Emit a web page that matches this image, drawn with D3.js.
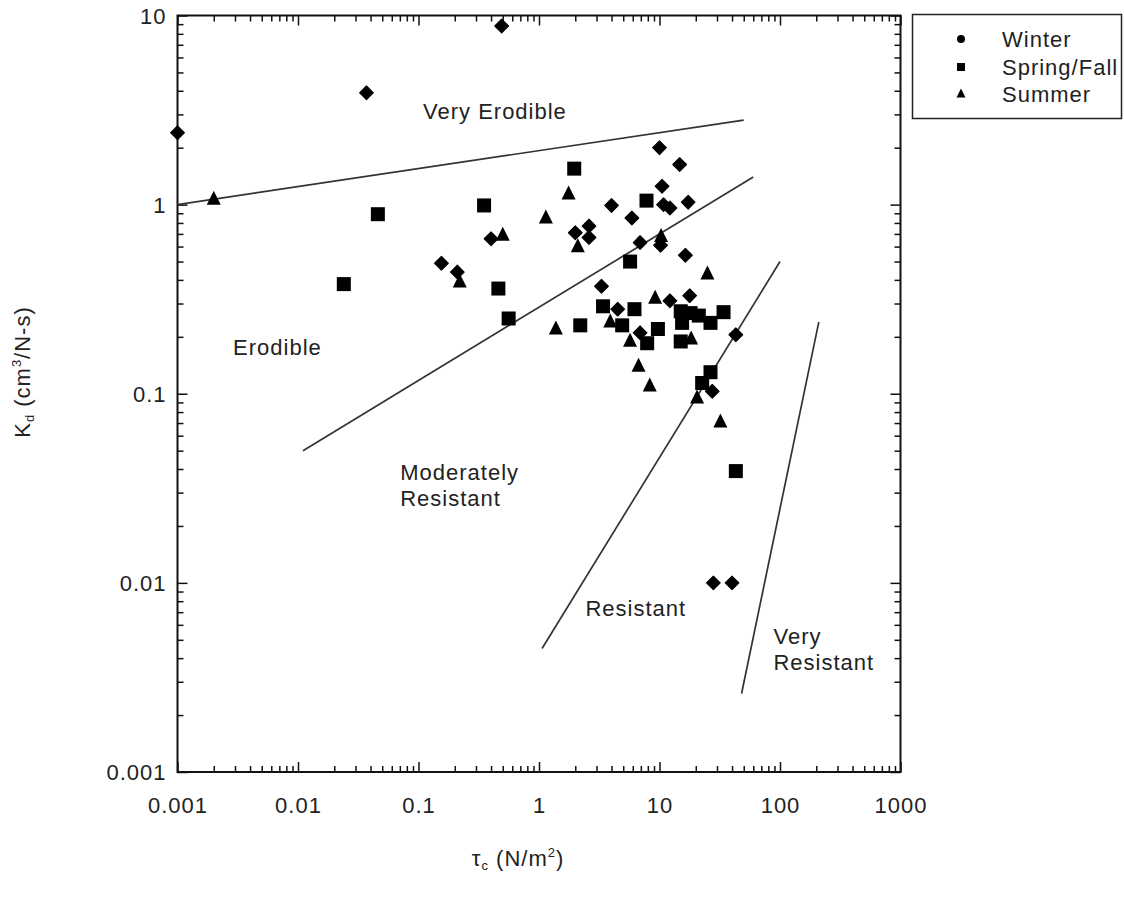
<!DOCTYPE html>
<html><head><meta charset="utf-8">
<script src="https://cdn.jsdelivr.net/npm/d3@7"></script>
<style>body{margin:0;background:#fff}</style>
</head><body>
<svg id="c" width="1124" height="909"></svg>
<script>
// ---------- data ----------
const xTickValues = [0.001, 0.01, 0.1, 1, 10, 100, 1000];
const xTickLabels = ["0.001", "0.01", "0.1", "1", "10", "100", "1000"];
const yTickValues = [0.001, 0.01, 0.1, 1, 10];
const yTickLabels = ["0.001", "0.01", "0.1", "1", "10"];

// Winter (tau_c, Kd)
const winterTau = [0.001, 0.037, 0.49, 0.155, 0.21, 0.40, 2.0, 2.6, 2.6, 4.0, 5.9, 6.9, 10.0, 14.7, 10.5, 10.8, 12.2, 17.3, 10.2, 16.4, 3.3, 4.5, 12.2, 17.8, 6.9, 43, 27.4, 28, 40];
const winterKd  = [2.4, 3.9, 8.8, 0.49, 0.44, 0.66, 0.71, 0.77, 0.67, 0.99, 0.85, 0.63, 2.0, 1.63, 1.25, 1.0, 0.96, 1.03, 0.61, 0.54, 0.37, 0.28, 0.31, 0.33, 0.21, 0.205, 0.103, 0.01, 0.01];
// Spring/Fall
const springTau = [0.024, 0.046, 0.35, 0.46, 0.56, 1.96, 2.2, 3.4, 4.9, 5.7, 6.2, 7.8, 7.9, 9.7, 15.0, 18.1, 21.2, 34, 26.5, 15.4, 15, 26.5, 22.6, 43];
const springKd  = [0.38, 0.89, 0.99, 0.36, 0.25, 1.55, 0.23, 0.29, 0.23, 0.50, 0.28, 1.05, 0.185, 0.22, 0.273, 0.267, 0.259, 0.27, 0.237, 0.237, 0.189, 0.13, 0.114, 0.039];
// Summer
const summerTau = [0.002, 0.22, 0.50, 1.14, 1.76, 2.1, 1.38, 3.9, 5.7, 6.7, 8.3, 9.2, 10.3, 18.3, 25, 20.5, 32];
const summerKd  = [1.07, 0.39, 0.69, 0.85, 1.14, 0.60, 0.22, 0.24, 0.19, 0.14, 0.11, 0.32, 0.68, 0.195, 0.43, 0.095, 0.071];

// Erodibility class boundary lines: [[tau1, kd1], [tau2, kd2]]
const boundaryLines = [
  [[0.001, 1.0], [50, 2.8]],
  [[0.011, 0.05], [60, 1.4]],
  [[1.06, 0.0045], [100, 0.5]],
  [[48, 0.0026], [210, 0.24]]
];
// Region labels: text lines, anchor (tau, kd) of first baseline
const regionText  = [["Very Erodible"], ["Erodible"], ["Moderately", "Resistant"], ["Resistant"], ["Very", "Resistant"]];
const regionTau   = [0.109, 0.00289, 0.0705, 2.43, 88.3];
const regionKd    = [2.85, 0.161, 0.0351, 0.00669, 0.00475];

const legendLabels = ["Winter", "Spring/Fall", "Summer"];

// ---------- drawing ----------
const svg = d3.select("#c");
const FONT = "'Liberation Sans', Arial, sans-serif";
const FS = 22;
const L = 177.5, R = 900.5, T = 15.5, B = 772;
const x = d3.scaleLog().domain([0.001, 1000]).range([L, R]);
const y = d3.scaleLog().domain([0.001, 10]).range([B, T]);

function minors(dom) {
  const out = [];
  for (let e = Math.log10(dom[0]); e < Math.log10(dom[1]); e++) {
    for (let k = 2; k <= 9; k++) out.push(k * Math.pow(10, e));
  }
  return out;
}
const xMinor = minors(x.domain()), yMinor = minors(y.domain());
const MAJ = 10, MIN = 6;

function tickGroup(axis, tf) {
  const g = svg.append("g").attr("transform", tf).call(axis);
  g.select(".domain").remove();
  g.selectAll("line").attr("stroke", "#111").attr("stroke-width", 1.5);
  g.selectAll("text").remove();
  return g;
}
tickGroup(d3.axisBottom(x).tickValues(xTickValues).tickSize(-MAJ), `translate(0,${B})`);
tickGroup(d3.axisBottom(x).tickValues(xMinor).tickSize(-MIN), `translate(0,${B})`);
tickGroup(d3.axisTop(x).tickValues(xTickValues).tickSize(-MAJ), `translate(0,${T})`);
tickGroup(d3.axisTop(x).tickValues(xMinor).tickSize(-MIN), `translate(0,${T})`);
tickGroup(d3.axisLeft(y).tickValues(yTickValues).tickSize(-MAJ), `translate(${L},0)`);
tickGroup(d3.axisLeft(y).tickValues(yMinor).tickSize(-MIN), `translate(${L},0)`);
tickGroup(d3.axisRight(y).tickValues(yTickValues).tickSize(-MAJ), `translate(${R},0)`);
tickGroup(d3.axisRight(y).tickValues(yMinor).tickSize(-MIN), `translate(${R},0)`);

svg.append("rect").attr("x", L).attr("y", T).attr("width", R - L).attr("height", B - T)
  .attr("fill", "none").attr("stroke", "#111").attr("stroke-width", 2);

const txt = (sel) => sel.attr("font-family", FONT).attr("font-size", FS)
  .attr("letter-spacing", "1px").attr("fill", "#222");

// tick labels
svg.append("g").selectAll("text").data(xTickValues).join("text")
  .call(txt).attr("x", d => x(d) + 0.5).attr("y", B + 41).attr("text-anchor", "middle")
  .text((d, i) => xTickLabels[i]);
svg.append("g").selectAll("text").data(yTickValues).join("text")
  .call(txt).attr("x", L - 11).attr("y", d => y(d) + 8).attr("text-anchor", "end")
  .text((d, i) => yTickLabels[i]);

// axis titles
const xt = svg.append("text").call(txt).attr("x", 518).attr("y", 866).attr("text-anchor", "middle");
xt.append("tspan").text("τ");
xt.append("tspan").attr("font-size", 13).attr("baseline-shift", "-4").text("c");
xt.append("tspan").text(" (N/m");
xt.append("tspan").attr("font-size", 13).attr("baseline-shift", "9").text("2");
xt.append("tspan").text(")");

const yt = svg.append("text").call(txt).attr("transform", "translate(30,372) rotate(-90)").attr("text-anchor", "middle");
yt.append("tspan").text("K");
yt.append("tspan").attr("font-size", 13).attr("baseline-shift", "-4").text("d");
yt.append("tspan").text(" (cm");
yt.append("tspan").attr("font-size", 13).attr("baseline-shift", "9").text("3");
yt.append("tspan").text("/N-s)");

// boundary lines
const line = d3.line().x(d => x(d[0])).y(d => y(d[1]));
svg.append("g").selectAll("path").data(boundaryLines).join("path")
  .attr("d", line).attr("fill", "none").attr("stroke", "#333").attr("stroke-width", 1.7);

// region labels
regionText.forEach((lines, i) => {
  lines.forEach((s, j) => {
    svg.append("text").call(txt).attr("x", x(regionTau[i])).attr("y", y(regionKd[i]) + j * 26).text(s);
  });
});

// markers
const diamond = (s) => `M0,${-s}L${s},0L0,${s}L${-s},0Z`;
const square = (s) => `M${-s},${-s}H${s}V${s}H${-s}Z`;
const tri = (w, h) => `M0,${-h * 0.6}L${w},${h * 0.4}H${-w}Z`;

svg.append("g").selectAll("path").data(winterTau.map((t, i) => [t, winterKd[i]])).join("path")
  .attr("transform", d => `translate(${x(d[0])},${y(d[1])})`)
  .attr("d", diamond(6.8)).attr("fill", "#000").attr("stroke", "#000").attr("stroke-width", 1.2).attr("stroke-linejoin", "round");
svg.append("g").selectAll("path").data(springTau.map((t, i) => [t, springKd[i]])).join("path")
  .attr("transform", d => `translate(${x(d[0])},${y(d[1])})`)
  .attr("d", square(7)).attr("fill", "#000");
svg.append("g").selectAll("path").data(summerTau.map((t, i) => [t, summerKd[i]])).join("path")
  .attr("transform", d => `translate(${x(d[0])},${y(d[1])})`)
  .attr("d", tri(7, 14)).attr("fill", "#000");

// legend
svg.append("rect").attr("x", 912.5).attr("y", 14.5).attr("width", 209).attr("height", 104)
  .attr("fill", "#fff").attr("stroke", "#222").attr("stroke-width", 1.5);
const legY = [39, 67, 94];
const lg = svg.append("g");
lg.append("circle").attr("cx", 961).attr("cy", legY[0]).attr("r", 4).attr("fill", "#000");
lg.append("path").attr("transform", `translate(961,${legY[1]})`).attr("d", square(4)).attr("fill", "#000");
lg.append("path").attr("transform", `translate(961,${legY[2]})`).attr("d", tri(4.5, 9)).attr("fill", "#000");
lg.selectAll("text").data(legendLabels).join("text").call(txt)
  .attr("x", 1002).attr("y", (d, i) => legY[i] + 8).text(d => d);
</script>
</body></html>
